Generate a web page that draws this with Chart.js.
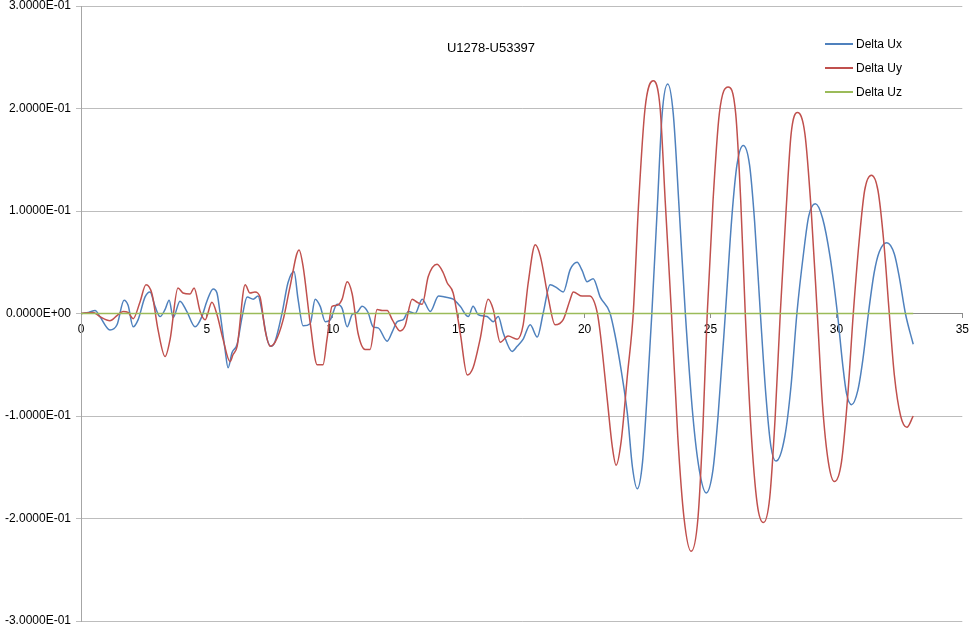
<!DOCTYPE html>
<html>
<head>
<meta charset="utf-8">
<script src="https://cdn.jsdelivr.net/npm/chart.js@4/dist/chart.umd.min.js"></script>
<style>
  body { margin: 0; background: #fff; }
  #wrap { position: relative; width: 974px; height: 628px; font-family: "Liberation Sans", Arial, sans-serif; }
  #title { position: absolute; left: 0; width: 982px; top: 40px; text-align: center; font-size: 13px; color: #000; }
  #legend { position: absolute; left: 825px; top: 32px; font-size: 12px; color: #000; }
  #legend div { height: 24px; line-height: 18px; display: flex; align-items: center; }
  #legend span.sw { display: inline-block; width: 28px; height: 2px; margin-right: 3px; }
</style>
</head>
<body>
<div id="wrap">
  <canvas id="myChart" width="974" height="628"></canvas>
  <div id="title">U1278-U53397</div>
  <div id="legend"></div>
</div>
<script>
// values (time in s, delta in m)
const uxTime = [0, 0.3, 0.56, 0.75, 1.15, 1.43, 1.71, 1.87, 2.07, 2.27, 2.54, 2.74, 2.94, 3.14, 3.34, 3.5, 3.66, 3.93, 4.2, 4.53, 4.8,
  5.0, 5.25, 5.4, 5.52, 5.72, 5.84, 6.0, 6.2, 6.4, 6.6, 6.84, 7.03, 7.19, 7.39, 7.55, 7.71, 7.99, 8.22, 8.46, 8.62, 8.82, 9.1, 9.3,
  9.5, 9.7, 9.9, 10.17, 10.37, 10.57, 10.77, 10.97, 11.16, 11.4, 11.6, 11.8, 12.16, 12.36, 12.56, 12.8, 13.0, 13.27, 13.55, 13.87,
  14.2, 14.46, 14.78, 15.06, 15.38, 15.57, 15.77, 16.13, 16.37, 16.57, 16.77, 17.12, 17.32, 17.56, 17.84, 18.12, 18.36, 18.63, 18.9,
  19.15, 19.43, 19.7, 19.9, 20.1, 20.34, 20.62, 21.0, 21.2, 21.45, 21.7, 21.9, 22.09, 22.3, 22.48, 22.67,
  22.88, 23.08, 23.3, 23.52, 23.76, 24.0, 24.3, 24.55, 24.83, 25.1, 25.3, 25.59,
  25.85, 26.05, 26.3, 26.55, 26.75, 26.98, 27.2, 27.4, 27.6, 27.95, 28.2, 28.43,
  28.7, 28.9, 29.16, 29.45, 29.75, 30.04, 30.25, 30.4, 30.6, 30.85, 31.05, 31.27,
  31.5, 31.7, 32.0, 32.3, 32.5, 32.74, 33.05];
const uxValue = [0, 0.001, 0.003, -0.003, -0.016, -0.011, 0.013, 0.008, -0.013, -0.006, 0.016, 0.021, 0.007, -0.003, 0.004, 0.013, -0.004, 0.012, 0.002, -0.013, -0.003,
  0.012, 0.024, 0.020, 0.001, -0.035, -0.053, -0.038, -0.030, -0.003, 0.016, 0.014, 0.017, 0.002, -0.025, -0.032, -0.027, 0.001, 0.030, 0.041, 0.014, -0.012, -0.010, 0.014,
  0.007, -0.008, -0.006, 0.009, 0.005, -0.013, -0.001, 0.001, 0.007, 0.001, -0.013, -0.014, -0.027, -0.018, -0.008, -0.006, 0.002, 0.000, 0.014, 0.002,
  0.017, 0.016, 0.014, 0.007, -0.003, 0.007, -0.001, -0.003, -0.008, -0.003, -0.019, -0.037, -0.032, -0.025, -0.011, -0.023, 0.001, 0.028, 0.025,
  0.021, 0.043, 0.050, 0.042, 0.031, 0.034, 0.016, 0.001, -0.020, -0.055, -0.098, -0.150, -0.171, -0.145, -0.080, 0,
  0.100, 0.195, 0.224, 0.195, 0.100, 0, -0.100, -0.152, -0.175, -0.152, -0.100, 0,
  0.095, 0.145, 0.164, 0.145, 0.090, 0, -0.080, -0.130, -0.144, -0.120, -0.070, 0,
  0.060, 0.095, 0.107, 0.093, 0.055, 0, -0.050, -0.078, -0.089, -0.075, -0.045, 0,
  0.040, 0.060, 0.069, 0.058, 0.035, 0, -0.030];

const uyTime = [0, 0.48, 0.75, 1.15, 1.43, 1.67, 1.87, 2.07, 2.34, 2.58, 2.82, 3.06, 3.34, 3.54, 3.85, 4.05, 4.33, 4.49, 4.73, 4.93,
  5.2, 5.4, 5.64, 5.92, 6.04, 6.2, 6.52, 6.71, 6.91, 7.11, 7.31, 7.51, 7.71, 8.03, 8.3, 8.66, 8.82, 9.1, 9.38, 9.61, 9.77, 9.97,
  10.17, 10.37, 10.57, 10.77, 11.0, 11.28, 11.48, 11.76, 11.96, 12.16, 12.36, 12.67, 12.87, 13.15, 13.35, 13.55, 13.79, 14.14, 14.38,
  14.54, 14.78, 15.06, 15.34, 15.57, 15.85, 16.17, 16.37, 16.65, 16.96, 17.32, 17.56, 17.76, 18.04, 18.24, 18.55, 18.83, 19.15, 19.43,
  19.55, 19.9, 20.2, 20.5, 20.62, 20.9, 21.1, 21.25, 21.45, 21.7, 21.93,
  22.15, 22.4, 22.73, 23.0, 23.2, 23.45, 23.7, 23.95, 24.23, 24.5, 24.7, 24.87,
  25.1, 25.35, 25.7, 26.0, 26.2, 26.38, 26.6, 26.85, 27.1, 27.35, 27.57, 27.77,
  28.0, 28.2, 28.45, 28.75, 29.0, 29.24, 29.45, 29.68, 29.92, 30.2, 30.45, 30.67,
  30.9, 31.12, 31.39, 31.65, 31.88, 32.1, 32.3, 32.55, 32.8, 33.05];
const uyValue = [0, 0.001, -0.003, -0.007, -0.002, 0.002, 0.001, -0.005, 0.011, 0.028, 0.019, -0.016, -0.042, -0.025, 0.025, 0.020, 0.019, 0.025, 0.002, -0.006,
  0.011, -0.001, -0.025, -0.047, -0.040, -0.032, 0.028, 0.020, 0.021, 0.016, -0.016, -0.032, -0.028, -0.006, 0.026, 0.062, 0.046, -0.009, -0.050, -0.050, -0.025, 0.007,
  0.008, 0.014, 0.031, 0.019, -0.019, -0.035, -0.035, 0.004, 0.003, 0.003, -0.006, -0.017, -0.012, 0.014, 0.011, 0.009, 0.036, 0.048, 0.040,
  0.030, 0.020, -0.019, -0.060, -0.053, -0.025, 0.014, 0.004, -0.028, -0.022, -0.025, -0.011, 0.030, 0.067, 0.056, 0.016, -0.011, -0.006, 0.014,
  0.021, 0.017, 0.017, 0.001, -0.019, -0.084, -0.130, -0.148, -0.125, -0.060, 0,
  0.110, 0.200, 0.227, 0.200, 0.110, 0, -0.120, -0.200, -0.232, -0.200, -0.110, 0,
  0.110, 0.195, 0.221, 0.195, 0.110, 0, -0.110, -0.185, -0.204, -0.180, -0.100, 0,
  0.100, 0.175, 0.196, 0.175, 0.100, 0, -0.090, -0.145, -0.164, -0.145, -0.080, 0,
  0.070, 0.120, 0.135, 0.120, 0.070, 0, -0.060, -0.100, -0.111, -0.100];

const uzTime = [0, 5, 10, 15, 20, 25, 30, 33.05];
const uzValue = [0, 0, 0, 0, 0, 0, 0, 0];

const seriesNames = ['Delta Ux', 'Delta Uy', 'Delta Uz'];
const seriesColors = ['#4f81bd', '#c0504d', '#9bbb59'];

function toPoints(t, v) {
  return t.map((x, i) => ({ x: x, y: v[i] }));
}

// Excel style scientific label, e.g. 3.0000E-01
function sciLabel(v) {
  if (Math.abs(v) < 1e-9) return '0.0000E+00';
  const parts = v.toExponential(4).split('e');
  const e = parts[1];
  return parts[0] + 'E' + e[0] + e.slice(1).padStart(2, '0');
}

const ctx = document.getElementById('myChart').getContext('2d');

const myChart = new Chart(ctx, {
  type: 'line',
  data: {
    datasets: [
      { label: seriesNames[0], data: toPoints(uxTime, uxValue), borderColor: seriesColors[0], order: 3 },
      { label: seriesNames[1], data: toPoints(uyTime, uyValue), borderColor: seriesColors[1], order: 2 },
      { label: seriesNames[2], data: toPoints(uzTime, uzValue), borderColor: seriesColors[2], order: 1 }
    ]
  },
  options: {
    responsive: false,
    animation: false,
    layout: { padding: { left: 0, right: 11, top: 0, bottom: 0 } },
    elements: {
      point: { radius: 0 },
      line: { borderWidth: 1.5, cubicInterpolationMode: 'monotone', fill: false }
    },
    plugins: {
      legend: { display: false },
      title: { display: false },
      tooltip: { enabled: false }
    },
    scales: {
      x: {
        type: 'linear',
        position: { y: 0 },
        min: 0,
        max: 35,
        ticks: { stepSize: 5, color: '#000', padding: 5, maxRotation: 0,
          font: { family: 'Liberation Sans', size: 12 } },
        grid: { drawOnChartArea: false, drawTicks: true, tickLength: 4, color: '#8c8c8c' },
        border: { color: '#8c8c8c' },
        afterFit: function(scale) { scale.height = 0; }
      },
      y: {
        min: -0.3,
        max: 0.3,
        ticks: { stepSize: 0.1, color: '#000', padding: 5,
          font: { family: 'Liberation Sans', size: 12 },
          callback: function(value) { return sciLabel(value); } },
        grid: { color: '#bdbdbd', tickLength: 5 },
        border: { color: '#a6a6a6' },
        afterFit: function(scale) {
          scale.width = 81;
          scale.paddingTop = 6;
          scale.paddingBottom = 7;
        }
      }
    }
  }
});

// legend built from the dataset names/colours
const legendBox = document.getElementById('legend');
seriesNames.forEach(function(name, i) {
  const row = document.createElement('div');
  row.innerHTML = '<span class="sw" style="background:' + seriesColors[i] + '"></span>' + name;
  legendBox.appendChild(row);
});
</script>
</body>
</html>
